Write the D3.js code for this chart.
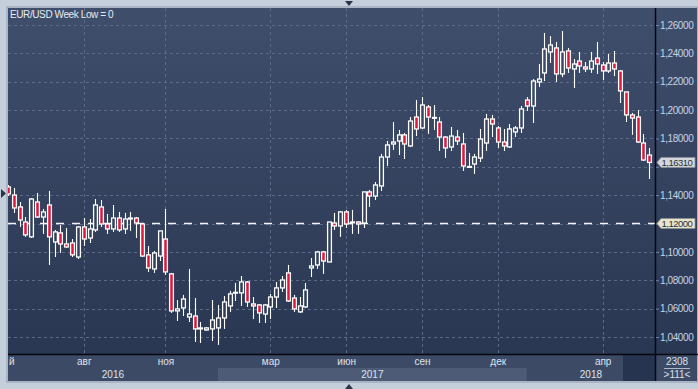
<!DOCTYPE html>
<html>
<head>
<meta charset="utf-8">
<script src="https://cdn.jsdelivr.net/npm/d3@7"></script>
<style>
  html, body { margin: 0; padding: 0; background: #c5cedb; }
  svg { display: block; font-family: "Liberation Sans", Arial, sans-serif; }
</style>
</head>
<body>
<svg id="chart" width="698" height="389"></svg>
<script>
// weekly EUR/USD candles, oldest first
const openV = [
  1.1458, 1.1401, 1.1317, 1.1211, 1.1106, 1.1352, 1.1246, 1.1331, 1.1070, 1.1134,
  1.1056, 1.1063, 1.0964, 1.1176, 1.1098, 1.1155, 1.1317, 1.1197, 1.1162, 1.1239,
  1.1162, 1.1232, 1.1239, 1.1197, 1.0979, 1.0880, 1.0971, 1.1091, 1.0845, 1.0584,
  1.0605, 1.0541, 1.0548, 1.0457, 1.0450, 1.0457, 1.0464, 1.0534, 1.0619, 1.0711,
  1.0711, 1.0788, 1.0633, 1.0626, 1.0562, 1.0612, 1.0682, 1.0746, 1.0852, 1.0675,
  1.0577, 1.0612, 1.0887, 1.0908, 1.1000, 1.0929, 1.1204, 1.1183, 1.1282, 1.1208,
  1.1211, 1.1204, 1.1423, 1.1394, 1.1465, 1.1669, 1.1761, 1.1782, 1.1825, 1.1747,
  1.1951, 1.1874, 1.2022, 1.1948, 1.1916, 1.1810, 1.1740, 1.1810, 1.1761, 1.1602,
  1.1620, 1.1662, 1.1768, 1.1937, 1.1874, 1.1775, 1.1740, 1.1846, 1.1874, 1.2071,
  1.2029, 1.2198, 1.2262, 1.2410, 1.2438, 1.2255, 1.2417, 1.2290, 1.2346, 1.2304,
  1.2290, 1.2367, 1.2318, 1.2276, 1.2332, 1.2276, 1.2128, 1.1966, 1.1951, 1.1768,
  1.1683
];
const highV = [
  1.1472, 1.1451, 1.1352, 1.1246, 1.1380, 1.1416, 1.1303, 1.1430, 1.1155, 1.1190,
  1.1169, 1.1091, 1.1183, 1.1239, 1.1232, 1.1373, 1.1366, 1.1268, 1.1331, 1.1282,
  1.1275, 1.1282, 1.1246, 1.1204, 1.1042, 1.1007, 1.1148, 1.1303, 1.0852, 1.0661,
  1.0697, 1.0880, 1.0675, 1.0506, 1.0471, 1.0661, 1.0626, 1.0689, 1.0725, 1.0781,
  1.0830, 1.0795, 1.0682, 1.0633, 1.0633, 1.0704, 1.0788, 1.0830, 1.0908, 1.0697,
  1.0682, 1.0781, 1.0957, 1.1007, 1.1007, 1.1211, 1.1275, 1.1289, 1.1296, 1.1296,
  1.1218, 1.1423, 1.1437, 1.1493, 1.1691, 1.1782, 1.1916, 1.1860, 1.1839, 1.1951,
  1.2071, 1.2092, 1.2036, 1.2036, 1.1951, 1.1815, 1.1881, 1.1860, 1.1839, 1.1698,
  1.1691, 1.1867, 1.1973, 1.1966, 1.1888, 1.1867, 1.1902, 1.1888, 1.2029, 1.2092,
  1.2219, 1.2325, 1.2544, 1.2522, 1.2480, 1.2558, 1.2438, 1.2360, 1.2410, 1.2339,
  1.2410, 1.2480, 1.2339, 1.2396, 1.2417, 1.2283, 1.2128, 1.1980, 1.2001, 1.1832,
  1.1733
];
const lowV = [
  1.1394, 1.1275, 1.1176, 1.1106, 1.1098, 1.1239, 1.1127, 1.0908, 1.0964, 1.0993,
  1.1028, 1.0964, 1.0950, 1.1042, 1.1063, 1.1141, 1.1176, 1.1127, 1.1141, 1.1141,
  1.1127, 1.1148, 1.1098, 1.0964, 1.0859, 1.0852, 1.0936, 1.0838, 1.0570, 1.0513,
  1.0548, 1.0506, 1.0365, 1.0358, 1.0443, 1.0372, 1.0344, 1.0457, 1.0577, 1.0654,
  1.0619, 1.0612, 1.0527, 1.0499, 1.0499, 1.0527, 1.0605, 1.0718, 1.0647, 1.0577,
  1.0570, 1.0605, 1.0823, 1.0880, 1.0845, 1.0929, 1.1155, 1.1106, 1.1169, 1.1127,
  1.1127, 1.1169, 1.1317, 1.1366, 1.1430, 1.1606, 1.1719, 1.1683, 1.1655, 1.1740,
  1.1817, 1.1867, 1.1832, 1.1860, 1.1712, 1.1662, 1.1712, 1.1754, 1.1571, 1.1592,
  1.1550, 1.1634, 1.1712, 1.1810, 1.1733, 1.1712, 1.1733, 1.1810, 1.1839, 1.1994,
  1.1909, 1.2163, 1.2205, 1.2332, 1.2198, 1.2233, 1.2262, 1.2156, 1.2262, 1.2269,
  1.2262, 1.2255, 1.2212, 1.2262, 1.2240, 1.2050, 1.1916, 1.1825, 1.1768, 1.1641,
  1.1514
];
const closeV = [
  1.1409, 1.1310, 1.1225, 1.1120, 1.1373, 1.1246, 1.1282, 1.1106, 1.1141, 1.1056,
  1.1035, 1.0979, 1.1176, 1.1091, 1.1162, 1.1331, 1.1197, 1.1162, 1.1239, 1.1155,
  1.1232, 1.1239, 1.1204, 1.0971, 1.0887, 1.0993, 1.1148, 1.0859, 1.0584, 1.0598,
  1.0668, 1.0562, 1.0457, 1.0464, 1.0464, 1.0520, 1.0534, 1.0647, 1.0704, 1.0715,
  1.0788, 1.0647, 1.0619, 1.0570, 1.0626, 1.0682, 1.0746, 1.0802, 1.0654, 1.0598,
  1.0619, 1.0732, 1.0901, 1.1000, 1.0936, 1.1211, 1.1183, 1.1282, 1.1197, 1.1211,
  1.1197, 1.1423, 1.1394, 1.1472, 1.1669, 1.1754, 1.1775, 1.1825, 1.1761, 1.1923,
  1.1867, 1.2036, 1.1951, 1.1944, 1.1810, 1.1733, 1.1817, 1.1782, 1.1606, 1.1599,
  1.1669, 1.1796, 1.1937, 1.1902, 1.1775, 1.1747, 1.1867, 1.1874, 1.2008, 1.2029,
  1.2205, 1.2219, 1.2431, 1.2459, 1.2255, 1.2410, 1.2297, 1.2325, 1.2311, 1.2290,
  1.2346, 1.2325, 1.2276, 1.2332, 1.2290, 1.2135, 1.1966, 1.1944, 1.1775, 1.1648,
  1.1631
];

const priceTicks = [1.04, 1.06, 1.08, 1.10, 1.12, 1.14, 1.16, 1.18, 1.20, 1.22, 1.24, 1.26];
const monthBar = [-0.5, 13, 27, 45, 58, 71, 84, 102];
const monthLabels = ['май', 'авг', 'ноя', 'мар', 'июн', 'сен', 'дек', 'апр'];
const yearStartBar = [-20, 36, 89];
const yearLabels = ['2016', '2017', '2018'];
const levelLine = 1.12;
const lastPrice = 1.16310;
const title = 'EUR/USD Week Low = 0';

const W = 698, H = 389;
const plot = { left: 8, right: 655, top: 8, bottom: 354 };
const axisRight = 697, axisBottom = 381;

const svg = d3.select('#chart');
const fmt = v => v.toFixed(5).replace('.', ',');

const bars = openV.map((o, i) => ({ i, o, h: highV[i], l: lowV[i], c: closeV[i] }));

const x = d3.scaleLinear().domain([0, bars.length - 1]).range([8, 649.3]);
const y = d3.scaleLinear().domain([1.04, 1.26]).range([337, 25]);

// backgrounds
const defs = svg.append('defs');
const grad = defs.append('linearGradient').attr('id', 'bg')
  .attr('gradientUnits', 'userSpaceOnUse')
  .attr('x1', 0).attr('y1', plot.top).attr('x2', 0).attr('y2', plot.bottom);
grad.append('stop').attr('offset', '0%').attr('stop-color', '#3f4e6b');
grad.append('stop').attr('offset', '100%').attr('stop-color', '#2a3753');
defs.append('clipPath').attr('id', 'clip')
  .append('rect').attr('x', plot.left).attr('y', plot.top)
  .attr('width', plot.right - plot.left).attr('height', plot.bottom - plot.top);
defs.append('clipPath').attr('id', 'clipAxis')
  .append('rect').attr('x', plot.left + 1).attr('y', 0).attr('width', plot.right - plot.left - 1).attr('height', H);

svg.append('rect').attr('width', W).attr('height', H).attr('fill', '#c5cedb');
svg.append('rect').attr('x', plot.left - 1).attr('y', plot.top - 1)
  .attr('width', axisRight - plot.left + 2).attr('height', axisBottom - plot.top + 2)
  .attr('fill', 'none').attr('stroke', '#8d99ad');
svg.append('rect').attr('x', plot.left).attr('y', plot.top)
  .attr('width', axisRight - plot.left).attr('height', plot.bottom - plot.top)
  .attr('fill', 'url(#bg)');

// bottom axis strip
svg.append('rect').attr('x', plot.left).attr('y', plot.bottom)
  .attr('width', axisRight - plot.left).attr('height', axisBottom - plot.bottom)
  .attr('fill', '#3c4a66');
const yearEnds = yearStartBar.slice(1).concat([bars.length + 6]);
svg.append('g').selectAll('rect').data(yearStartBar).join('rect')
  .attr('x', (d, i) => Math.max(plot.left, x(d)))
  .attr('y', 368)
  .attr('width', (d, i) => Math.min(plot.right, x(yearEnds[i])) - Math.max(plot.left, x(d)))
  .attr('height', 13)
  .attr('fill', (d, i) => i === 1 ? '#4d5b77' : '#3c4a66');
svg.append('rect').attr('x', 623).attr('y', plot.bottom + 1)
  .attr('width', plot.right - 623).attr('height', axisBottom - plot.bottom - 1)
  .attr('fill', '#27344f');

// grid
const grid = svg.append('g').attr('stroke', '#5b6a88').attr('stroke-dasharray', '3,3').attr('stroke-width', 1);
grid.selectAll('.h').data(priceTicks).join('line')
  .attr('x1', plot.left).attr('x2', plot.right)
  .attr('y1', d => Math.round(y(d)) + 0.5).attr('y2', d => Math.round(y(d)) + 0.5);
grid.selectAll('.v').data(monthBar.slice(1)).join('line')
  .attr('x1', d => Math.round(x(d)) + 0.5).attr('x2', d => Math.round(x(d)) + 0.5)
  .attr('y1', plot.top).attr('y2', plot.bottom);

// level line
svg.append('line')
  .attr('x1', plot.left).attr('x2', plot.right)
  .attr('y1', y(levelLine)).attr('y2', y(levelLine))
  .attr('stroke', '#f2f4f8').attr('stroke-width', 1.5).attr('stroke-dasharray', '8,8');

// candles
const cg = svg.append('g').attr('clip-path', 'url(#clip)');
const candle = cg.selectAll('g').data(bars).join('g');
candle.append('line')
  .attr('x1', d => Math.round(x(d.i)) + 0.5).attr('x2', d => Math.round(x(d.i)) + 0.5)
  .attr('y1', d => y(d.h)).attr('y2', d => y(Math.max(d.o, d.c)))
  .attr('stroke', '#fff').attr('stroke-width', 1.1);
candle.append('line')
  .attr('x1', d => Math.round(x(d.i)) + 0.5).attr('x2', d => Math.round(x(d.i)) + 0.5)
  .attr('y1', d => y(Math.min(d.o, d.c))).attr('y2', d => y(d.l))
  .attr('stroke', '#fff').attr('stroke-width', 1.1);
candle.append('rect')
  .attr('x', d => Math.round(x(d.i)) + 0.5 - 1.9)
  .attr('width', 3.8)
  .attr('y', d => y(Math.max(d.o, d.c)))
  .attr('height', d => Math.max(0.8, Math.abs(y(d.o) - y(d.c))))
  .attr('fill', d => d.c < d.o ? '#e1163d' : 'url(#bg)')
  .attr('stroke', '#fff').attr('stroke-width', 1.3);

// frame lines
svg.append('line').attr('x1', plot.left).attr('x2', axisRight + 1)
  .attr('y1', plot.bottom + 0.5).attr('y2', plot.bottom + 0.5)
  .attr('stroke', '#05070c').attr('stroke-width', 1.5);
svg.append('line').attr('x1', plot.right + 0.5).attr('x2', plot.right + 0.5)
  .attr('y1', plot.top).attr('y2', axisBottom)
  .attr('stroke', '#05070c').attr('stroke-width', 1.5);

// price axis (labels under the two tags stay hidden, as in the source)
const tagged = [levelLine, lastPrice].map(v => Math.round(v * 100) / 100);
const yAxis = svg.append('g').attr('transform', `translate(${plot.right + 1},0)`)
  .call(d3.axisRight(y).tickValues(priceTicks)
    .tickFormat(d => tagged.includes(d) ? '' : fmt(d)).tickSize(3).tickPadding(1));
yAxis.select('.domain').remove();
yAxis.selectAll('line').attr('stroke', '#6d84b0');
yAxis.selectAll('text').attr('fill', '#c9d3e2').attr('font-size', 10)
  .attr('letter-spacing', '-0.4px');

// month axis
const xAxis = svg.append('g').attr('transform', `translate(0,${plot.bottom + 1})`)
  .attr('clip-path', 'url(#clipAxis)')
  .call(d3.axisBottom(x).tickValues(monthBar).tickFormat((d, i) => monthLabels[i]).tickSize(0).tickPadding(3));
xAxis.select('.domain').remove();
xAxis.selectAll('text').attr('fill', '#dde4ee').attr('font-size', 10);

// year labels
svg.append('g').selectAll('text').data(yearLabels).join('text')
  .attr('x', (d, i) => (Math.max(plot.left, x(yearStartBar[i])) + Math.min(plot.right, x(yearEnds[i]))) / 2)
  .attr('y', 378)
  .attr('text-anchor', 'middle')
  .attr('fill', '#dde4ee').attr('font-size', 10)
  .text(d => d);

// price tags
function tag(v, fill) {
  const g = svg.append('g').attr('transform', `translate(${plot.right + 2},${y(v)})`);
  g.append('path').attr('d', 'M0,0 L4,-5 L38,-5 L38,5 L4,5 Z')
    .attr('fill', fill).attr('stroke', '#8a8f96').attr('stroke-width', 0.8);
  g.append('text').attr('x', 4.5).attr('y', 3.5).attr('fill', '#2b3038')
    .attr('font-size', 9.5).attr('letter-spacing', '-0.5px').text(fmt(v));
}
tag(levelLine, '#e9e5cb');
tag(lastPrice, '#d3d7dc');

// title
svg.append('text').attr('x', 10).attr('y', 18).attr('fill', '#e6ebf2')
  .attr('font-size', 10).attr('letter-spacing', '-0.4px').text(title);

// corner box
svg.append('text').attr('x', 677).attr('y', 365).attr('text-anchor', 'middle')
  .attr('fill', '#d8e0ea').attr('font-size', 10).text('2308');
svg.append('line').attr('x1', 664).attr('x2', 690).attr('y1', 368.5).attr('y2', 368.5)
  .attr('stroke', '#aeb8c8');
svg.append('text').attr('x', 677).attr('y', 378).attr('text-anchor', 'middle')
  .attr('fill', '#d8e0ea').attr('font-size', 10).text('>111<');

// small scroll markers on the frame
svg.append('path').attr('d', 'M345,1 L353,1 L349,6 Z').attr('fill', '#2b3447');
svg.append('path').attr('d', 'M345,389 L353,389 L349,384 Z').attr('fill', '#2b3447');
svg.append('path').attr('d', 'M1,189 L1,198 L6,193.5 Z').attr('fill', '#2b3447');
</script>
</body>
</html>
